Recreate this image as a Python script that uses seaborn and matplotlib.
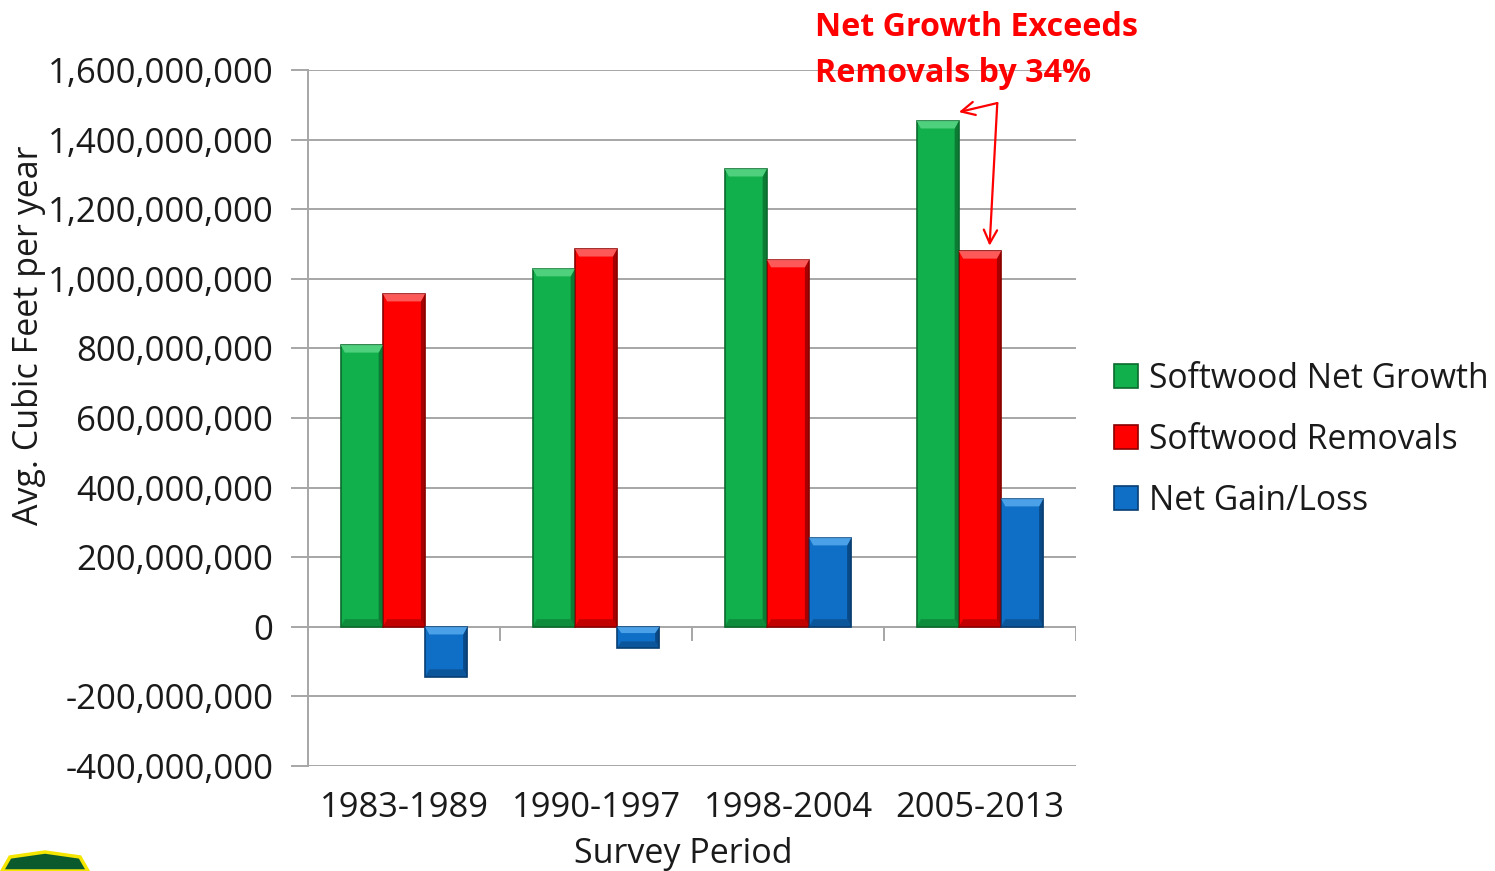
import matplotlib
matplotlib.use("Agg")
import matplotlib.pyplot as plt
from matplotlib.patches import Polygon
import seaborn as sns
import pandas as pd

periods = ["1983-1989", "1990-1997", "1998-2004", "2005-2013"]
net_growth = [810_000_000, 1_029_000_000, 1_316_000_000, 1_454_000_000]
removals = [957_000_000, 1_086_000_000, 1_055_000_000, 1_080_000_000]
net_gain = [-144_000_000, -60_000_000, 256_000_000, 368_000_000]
series = ["Softwood Net Growth", "Softwood Removals", "Net Gain/Loss"]
colors = ["#12b04c", "#fe0000", "#0f6fc6"]
dark = ["#0a6a2c", "#8a0000", "#083d72"]
light = ["#5fd98a", "#ff7070", "#5aaef0"]

rows = []
for name, vals in zip(series, [net_growth, removals, net_gain]):
    for p, v in zip(periods, vals):
        rows.append({"Survey Period": p, "Series": name, "Value": v})
df = pd.DataFrame(rows)

sns.set_theme(style="white")
plt.rcParams["font.family"] = ["Open Sans", "DejaVu Sans"]

fig = plt.figure(figsize=(14.95, 8.71), dpi=100)
ax = fig.add_axes([308 / 1495, 1 - 766 / 871, 768 / 1495, 696 / 871])

sns.barplot(data=df, x="Survey Period", y="Value", hue="Series",
            palette=colors, width=0.66, gap=0, ax=ax, legend=False,
            saturation=1, errorbar=None, zorder=3)

# bevelled look on each bar
for i, cont in enumerate(ax.containers):
    for patch in cont.patches:
        x0, w = patch.get_x(), patch.get_width()
        y0, h = patch.get_y(), patch.get_height()
        x1 = x0 + w
        ytop, ybot = max(y0, y0 + h), min(y0, y0 + h)
        bx = w * 0.1
        by = min(22_000_000, (ytop - ybot) * 0.3)
        patch.set_edgecolor(dark[i])
        patch.set_linewidth(1.2)
        ax.add_patch(Polygon([(x1 - bx, ybot + by), (x1, ybot), (x1, ytop), (x1 - bx, ytop - by)],
                             closed=True, facecolor=dark[i], edgecolor="none", alpha=0.75, zorder=4))
        ax.add_patch(Polygon([(x0, ybot), (x1, ybot), (x1 - bx, ybot + by), (x0 + bx, ybot + by)],
                             closed=True, facecolor=dark[i], edgecolor="none", alpha=0.5, zorder=4))
        ax.add_patch(Polygon([(x0, ytop), (x1, ytop), (x1 - bx, ytop - by), (x0 + bx, ytop - by)],
                             closed=True, facecolor=light[i], edgecolor="none", alpha=0.8, zorder=4))

ax.set_ylim(-400_000_000, 1_600_000_000)
ax.set_xlim(-0.5, 3.5)
yt = list(range(-400_000_000, 1_600_000_001, 200_000_000))
ax.set_yticks(yt)
ax.set_yticklabels([f"{v:,}" for v in yt])
ax.yaxis.grid(True, color="#a6a6a6", linewidth=1.4, zorder=0)
ax.set_axisbelow(True)
for s in ["top", "right", "bottom"]:
    ax.spines[s].set_visible(False)
ax.spines["left"].set_color("#a6a6a6")
ax.spines["left"].set_linewidth(1.4)
ax.tick_params(axis="y", which="major", left=True, length=12, width=1.4,
               color="#a6a6a6", labelsize=25, labelcolor="#1a1a1a", pad=13)
ax.tick_params(axis="x", length=0, labelsize=24.8, labelcolor="#1a1a1a", pad=18)
ax.vlines([0.5, 1.5, 2.5, 3.5], -40_000_000, 0, color="#a6a6a6", linewidth=1.4, zorder=1)

ax.set_xlabel("")
ax.set_ylabel("")
fig.text(683 / 1495, 1 - 854 / 871, "Survey Period", fontsize=24.5, color="#1a1a1a",
         ha="center", va="center")
fig.text(29 / 1495, 1 - 335 / 871, "Avg. Cubic Feet per year", fontsize=24.5,
         color="#1a1a1a", rotation=90, ha="center", va="center")

handles = [plt.Rectangle((0, 0), 1, 1, facecolor=c, edgecolor=d, linewidth=1.2)
           for c, d in zip(colors, dark)]
fig.legend(handles, series, loc="center left", bbox_to_anchor=(1084 / 1495, 1 - 440 / 871),
           frameon=False, fontsize=24.2, handlelength=0.72, handleheight=0.72,
           handletextpad=0.3, labelspacing=0.8, labelcolor="#1a1a1a")

# callout
fig.text(815 / 1495, 1 - 27 / 871, "Net Growth Exceeds", color="#fe0000",
         fontsize=23.2, fontweight="bold", va="center", ha="left")
fig.text(815 / 1495, 1 - 74 / 871, "Removals by 34%", color="#fe0000",
         fontsize=23.2, fontweight="bold", va="center", ha="left")
apex = (3.09, 1_505_000_000)
arrow = dict(arrowstyle="->", color="#fe0000", lw=1.6, mutation_scale=24, shrinkA=0, shrinkB=0)
ax.annotate("", xy=(2.89, net_growth[3] + 25_000_000), xytext=apex, arrowprops=arrow, zorder=6)
ax.annotate("", xy=(3.05, removals[3] + 15_000_000), xytext=apex, arrowprops=arrow, zorder=6)

# agency badge in the corner
fig.patches.append(Polygon([(2 / 1495, 0), (10 / 1495, 14 / 871), (45 / 1495, 19 / 871),
                            (80 / 1495, 14 / 871), (88 / 1495, 0)], closed=True,
                           transform=fig.transFigure, facecolor="#0b5a2e",
                           edgecolor="#f5e600", linewidth=2.5))

fig.savefig("out.png", dpi=100)
